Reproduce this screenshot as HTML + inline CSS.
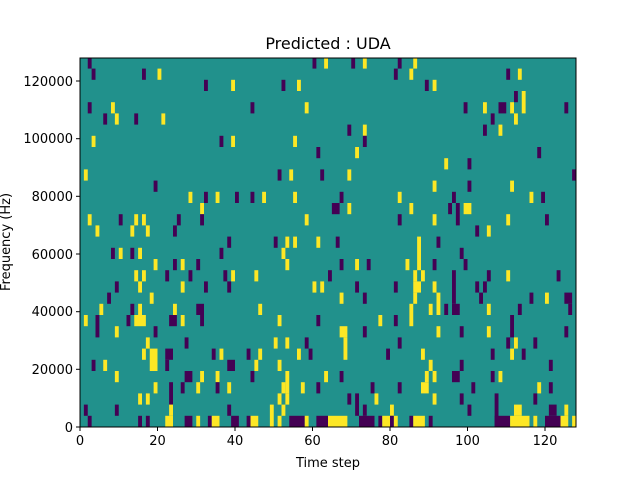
<!DOCTYPE html>
<html><head><meta charset="utf-8"><style>
html,body{margin:0;padding:0;background:#fff;}
svg{display:block;font-family:"DejaVu Sans","Liberation Sans",sans-serif;}
</style></head><body>
<svg id="s" width="640" height="480" xmlns="http://www.w3.org/2000/svg">
<rect x="0" y="0" width="640" height="480" fill="#fff"/>
<rect x="80" y="58" width="496" height="369" fill="#21918c"/>
<g id="cells"></g>
<rect x="80" y="58" width="496" height="369" fill="none" stroke="#000" stroke-width="1"/>
<g stroke="#000" stroke-width="1">
<line x1="80" y1="427" x2="80" y2="431"/><line x1="157.5" y1="427" x2="157.5" y2="431"/><line x1="235" y1="427" x2="235" y2="431"/><line x1="312.5" y1="427" x2="312.5" y2="431"/><line x1="390" y1="427" x2="390" y2="431"/><line x1="467.5" y1="427" x2="467.5" y2="431"/><line x1="545" y1="427" x2="545" y2="431"/>
<line x1="76" y1="427" x2="80" y2="427"/><line x1="76" y1="369.3" x2="80" y2="369.3"/><line x1="76" y1="311.7" x2="80" y2="311.7"/><line x1="76" y1="254" x2="80" y2="254"/><line x1="76" y1="196.3" x2="80" y2="196.3"/><line x1="76" y1="138.7" x2="80" y2="138.7"/><line x1="76" y1="81" x2="80" y2="81"/>
</g>
<g font-size="13" fill="#000" text-anchor="middle">
<text x="80" y="445">0</text><text x="157.5" y="445">20</text><text x="235" y="445">40</text><text x="312.5" y="445">60</text><text x="390" y="445">80</text><text x="467.5" y="445">100</text><text x="545" y="445">120</text>
</g>
<g font-size="13" fill="#000" text-anchor="end">
<text x="73" y="432">0</text><text x="73" y="374">20000</text><text x="73" y="316">40000</text><text x="73" y="259">60000</text><text x="73" y="201">80000</text><text x="73" y="143">100000</text><text x="73" y="86">120000</text>
</g>
<text x="328" y="467" font-size="13" text-anchor="middle">Time step</text>
<text x="328" y="49" font-size="16" text-anchor="middle">Predicted : UDA</text>
<text transform="translate(10,242) rotate(-90)" font-size="13" text-anchor="middle">Frequency (Hz)</text>
</svg>
<script>
var P="#440154",Y="#fde725";
var d=[
"2,0,1,1,P","3,1,1,1,P","16,1,1,1,P","20,1,1,1,Y","32,2,1,1,P","39,2,1,1,Y","2,4,1,1,P","8,4,1,1,Y","6,5,1,1,P","9,5,1,1,Y","14,5,1,1,P","21,5,1,1,Y","3,7,1,1,Y","36,7,1,1,P","39,7,1,1,Y","1,10,1,1,Y","19,11,1,1,P","28,12,1,1,Y","32,12,1,1,P","35,12,1,1,Y","40,12,1,1,P","31,13,1,1,Y","2,14,1,1,Y","10,14,1,1,P","14,14,1,1,Y","16,14,1,1,Y","25,14,1,1,P","31,14,1,1,P","4,15,1,1,Y","13,15,1,1,Y","17,15,1,1,Y","24,15,1,1,P","38,16,1,1,P",
"60,0,1,1,P","63,0,1,1,Y","70,0,1,1,P","73,0,1,1,Y","82,0,1,1,P","81,1,1,1,P","85,1,1,1,Y","52,2,1,1,P","56,2,1,1,Y","44,4,1,1,P","58,4,1,1,Y","69,6,1,1,P","73,6,1,1,Y","55,7,1,1,Y","73,7,1,1,P","61,8,1,1,P","71,8,1,1,Y","51,10,1,1,P","54,10,1,1,Y","62,10,1,1,P","69,10,1,1,Y","44,12,1,1,P","47,12,1,1,Y","55,12,1,1,Y","67,12,1,1,P","82,12,1,1,Y","65,13,2,1,P","69,13,1,1,Y","85,13,1,1,Y","58,14,1,1,Y","82,14,1,1,P","50,16,1,1,P","53,16,1,1,Y","55,16,1,1,Y","61,16,1,1,Y","66,16,1,1,P",
"86,0,1,1,Y","110,1,1,1,P","113,1,1,1,Y","89,2,1,1,P","91,2,1,1,Y","112,3,1,1,P","114,3,1,2,Y","99,4,1,1,P","104,4,1,1,Y","108,4,2,1,P","111,4,1,1,Y","125,4,1,1,P","106,5,1,1,P","112,5,1,1,Y","104,6,1,1,P","108,6,1,1,Y","118,8,1,1,P","94,9,1,1,Y","100,9,1,1,P","127,10,1,1,P","91,11,1,1,Y","100,11,1,1,P","111,11,1,1,Y","96,12,1,1,P","116,12,1,1,Y","119,12,1,1,P","95,13,1,1,P","97,13,1,2,P","99,13,2,1,Y","91,14,1,1,Y","110,14,1,1,Y","120,14,1,1,P","102,15,1,1,P","105,15,1,1,Y","87,16,1,3,Y","92,16,1,1,P",
"8,17,1,1,P","10,17,1,1,Y","13,17,1,1,P","15,17,1,1,Y","36,17,1,1,P","19,18,1,1,Y","24,18,1,1,P","26,18,1,1,Y","30,18,1,1,P","14,19,1,1,Y","16,19,1,1,Y","22,19,1,1,P","28,19,1,1,P","37,19,1,1,P","39,19,1,1,Y","9,20,1,1,P","15,20,1,1,Y","26,20,1,1,Y","32,20,1,1,P","38,20,1,1,P","7,21,1,1,P","18,21,1,1,Y","5,22,1,1,Y","13,22,1,1,P","15,22,1,1,Y","24,22,1,1,Y","30,22,2,1,P","31,23,1,1,P","1,23,1,1,Y","4,23,1,2,P","12,23,1,1,P","14,23,3,1,Y","23,23,2,1,P","26,23,1,1,Y","9,24,1,1,Y","19,24,1,1,P","17,25,1,1,Y","27,25,1,1,P","16,26,1,1,Y","18,26,2,2,Y","22,26,2,1,P","22,27,1,1,P","34,26,1,1,P","36,26,1,1,Y","3,27,1,1,P","6,27,1,1,Y","38,27,2,1,P","9,28,1,1,Y","27,28,2,1,P","31,28,1,1,Y","35,28,1,1,Y","19,29,1,1,Y","23,29,1,2,P","26,29,1,1,P","30,29,1,1,Y","35,29,1,1,P","38,29,1,1,Y","15,30,1,1,Y","17,30,1,1,Y","23,31,1,1,Y","1,31,1,1,P","9,31,1,1,P","38,31,1,1,P","2,32,1,1,P","15,32,1,1,P","17,32,1,1,P","22,32,2,1,Y","27,32,2,1,P","30,32,1,1,Y","33,32,1,1,P","34,32,2,1,Y","39,32,2,1,P",
"52,17,1,1,Y","53,18,1,1,Y","67,18,1,1,P","71,18,1,1,Y","74,18,1,1,P","84,18,1,1,Y","45,19,1,1,Y","64,19,1,1,P","60,20,1,1,Y","62,20,1,1,Y","71,20,1,1,P","81,20,1,1,P","67,21,1,1,Y","73,21,1,1,P","46,22,1,1,Y","85,22,1,2,Y","51,23,1,1,Y","61,23,1,1,P","77,23,1,1,Y","81,23,1,1,P","67,24,2,1,Y","73,24,1,1,P","50,25,1,1,Y","53,25,1,1,Y","58,25,1,1,P","68,25,1,2,Y","82,25,1,1,P","43,26,1,1,P","46,26,1,1,Y","56,26,1,1,Y","59,26,1,1,P","79,26,1,1,P","45,27,1,1,Y","51,27,1,1,Y","44,28,1,1,P","53,28,1,2,Y","52,29,1,1,Y","63,28,1,1,Y","67,28,1,1,P","57,29,1,1,Y","61,29,1,1,P","75,29,1,1,P","82,29,1,1,P","51,30,1,1,Y","53,30,1,1,Y","69,30,1,1,P","71,30,1,2,P","76,30,1,1,Y","49,31,1,2,Y","52,31,1,1,Y","73,31,1,1,P","80,31,1,1,Y","43,32,1,1,P","44,32,2,1,Y","51,32,1,1,Y","54,32,4,1,P","58,32,1,1,Y","61,32,3,1,P","64,32,5,1,Y","72,32,4,1,P","77,32,1,1,P","78,32,2,1,Y","80,32,1,1,P","81,32,1,1,Y","85,32,1,1,P",
"98,17,1,1,P","91,18,1,1,P","99,18,1,1,P","86,19,1,1,Y","88,19,1,1,Y","96,19,1,3,P","105,19,1,1,P","110,19,1,1,Y","123,19,1,1,P","86,20,2,1,Y","91,20,1,1,Y","102,20,1,1,P","104,20,1,1,P","86,21,1,1,Y","92,21,1,2,Y","103,21,1,1,P","116,21,1,1,P","120,21,1,1,Y","125,21,2,1,P","90,22,1,1,Y","94,22,1,1,P","96,22,2,1,P","105,22,1,1,Y","113,22,1,1,P","126,22,1,1,P","111,23,1,2,P","92,24,1,1,Y","98,24,1,1,P","105,24,1,1,Y","125,24,1,1,P","110,25,1,1,P","112,25,1,1,Y","117,25,1,1,P","88,26,1,1,Y","106,26,1,1,P","111,26,1,1,Y","114,26,1,1,P","90,27,1,1,Y","98,27,1,1,P","121,27,1,1,P","89,28,1,1,Y","91,28,1,1,Y","96,28,2,1,P","106,28,1,1,P","108,28,1,1,Y","88,29,2,1,Y","101,29,1,1,P","118,29,1,1,Y","121,29,1,1,P","91,30,1,1,Y","98,30,1,1,P","107,30,1,3,P","117,30,1,1,P","100,31,1,1,P","112,31,2,1,Y","121,31,2,1,P","125,31,1,1,Y","86,32,3,1,Y","90,32,1,1,P","107,32,4,1,P","111,32,5,1,Y","117,32,1,1,Y","120,32,4,1,P","124,32,2,1,Y","127,32,1,1,Y"
];
function yt(r){return Math.max(58,427-(33-r)*11.2);}
var g=document.getElementById("cells"),ns="http://www.w3.org/2000/svg";
d.forEach(function(s){var a=s.split(","),c=+a[0],r=+a[1],w=+a[2],h=+a[3];
var e=document.createElementNS(ns,"rect");var y0=yt(r),y1=427-(33-r-h)*11.2;
e.setAttribute("x",80+c*3.875);e.setAttribute("width",w*3.875);e.setAttribute("y",y0);e.setAttribute("height",y1-y0);
e.setAttribute("fill",a[4]=="P"?P:Y);g.appendChild(e);});
</script>
</body></html>
